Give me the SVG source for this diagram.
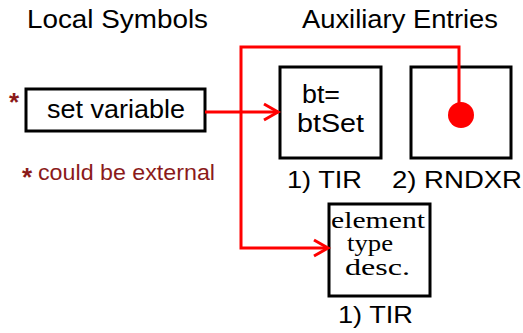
<svg xmlns="http://www.w3.org/2000/svg" width="523" height="333" viewBox="0 0 523 333">
<style>
.box{fill:#fff;stroke:#000;stroke-width:3}
.sans{font-family:"Liberation Sans",Arial,sans-serif;fill:#000}
.serif{font-family:"Liberation Serif","Times New Roman",serif;fill:#000}
.note{font-family:"Liberation Sans",Arial,sans-serif;fill:#8b1a1a}
.star{font-family:"Liberation Sans",Arial,sans-serif;fill:#8b1a1a;font-weight:bold}
.wire{fill:none;stroke:#f00;stroke-width:3}
</style>
<defs>
<marker id="arr" markerUnits="userSpaceOnUse" markerWidth="20" markerHeight="20" refX="17" refY="10" orient="auto" overflow="visible">
<polyline points="3,2 17,10 3,18" fill="none" stroke="#f00" stroke-width="3"/>
</marker>
</defs>
<rect width="523" height="333" fill="#fff"/>
<text class="sans" x="27" y="28" font-size="25" textLength="181" lengthAdjust="spacingAndGlyphs">Local Symbols</text>
<text class="sans" x="302" y="28" font-size="25" textLength="196" lengthAdjust="spacingAndGlyphs">Auxiliary Entries</text>
<g id="set-variable">
<text class="star" x="9" y="111" font-size="26">*</text>
<rect class="box" x="26" y="89" width="179" height="42"/>
<text class="sans" x="47" y="118" font-size="25" textLength="138" lengthAdjust="spacingAndGlyphs">set variable</text>
</g>
<g id="note">
<text class="star" x="22" y="186" font-size="26">*</text>
<text class="note" x="38" y="180" font-size="22" textLength="177" lengthAdjust="spacingAndGlyphs">could be external</text>
</g>
<g id="tir1">
<rect class="box" x="280" y="67" width="101" height="91"/>
<text class="sans" x="302" y="103" font-size="25" textLength="38" lengthAdjust="spacingAndGlyphs">bt=</text>
<text class="sans" x="297" y="132" font-size="25" textLength="67" lengthAdjust="spacingAndGlyphs">btSet</text>
<text class="sans" x="287" y="188" font-size="24" textLength="75" lengthAdjust="spacingAndGlyphs">1) TIR</text>
</g>
<g id="rndxr">
<rect class="box" x="411" y="67" width="100" height="91"/>
<text class="sans" x="392" y="188" font-size="24" textLength="130" lengthAdjust="spacingAndGlyphs">2) RNDXR</text>
</g>
<g id="tir2">
<rect class="box" x="329" y="204" width="101" height="92"/>
<text class="serif" x="331" y="228" font-size="23" textLength="94" lengthAdjust="spacingAndGlyphs">element</text>
<text class="serif" x="347" y="251" font-size="23" textLength="46" lengthAdjust="spacingAndGlyphs">type</text>
<text class="serif" x="345" y="275" font-size="23" textLength="65" lengthAdjust="spacingAndGlyphs">desc.</text>
<text class="sans" x="338" y="323" font-size="24" textLength="75" lengthAdjust="spacingAndGlyphs">1) TIR</text>
</g>
<g id="connectors">
<line class="wire" x1="205" y1="112" x2="278" y2="112" marker-end="url(#arr)"/>
<polyline class="wire" points="459,115 459,47 241,47 241,248 328,248" marker-end="url(#arr)"/>
<circle cx="461" cy="115" r="13" fill="#f00"/>
</g>
</svg>
